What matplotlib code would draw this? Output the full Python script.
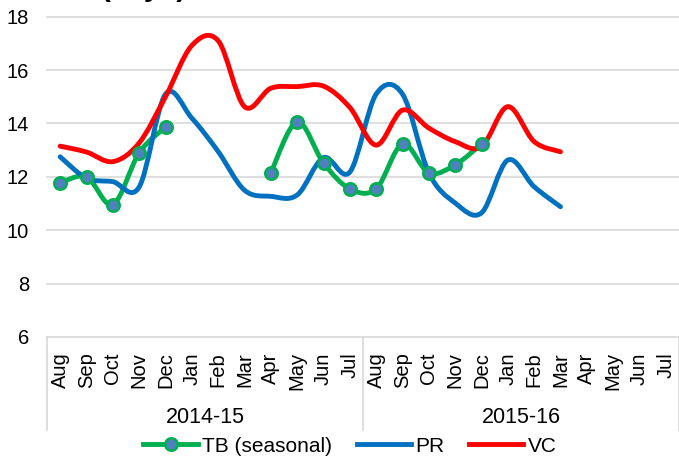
import numpy as np
import matplotlib
matplotlib.use("Agg")
import matplotlib.pyplot as plt
from matplotlib.path import Path
from matplotlib.patches import PathPatch
from matplotlib.lines import Line2D
import matplotlib.transforms as mtransforms

plt.rcParams['font.family'] = ['Liberation Sans', 'DejaVu Sans']

months = ["Aug", "Sep", "Oct", "Nov", "Dec", "Jan", "Feb", "Mar", "Apr", "May", "Jun", "Jul"]
categories = months + months
groups = ["2014-15", "2015-16"]
nan = np.nan

tb = [11.77, 12.0, 10.96, 12.9, 13.87, nan, nan, nan, 12.15, 14.06, 12.52, 11.55,
      11.55, 13.23, 12.15, 12.45, 13.23, nan, nan, nan, nan, nan, nan, nan]
pr = [12.75, 11.95, 11.82, 11.62, 15.1, 14.2, 12.95, 11.5, 11.27, 11.32, 12.72, 12.18,
      15.1, 15.1, 12.15, 11.02, 10.65, 12.63, 11.63, 10.88, nan, nan, nan, nan]
vc = [13.15, 12.93, 12.57, 13.27, 15.0, 16.92, 17.1, 14.63, 15.32, 15.38, 15.4, 14.6,
      13.19, 14.5, 13.83, 13.32, 13.13, 14.63, 13.32, 12.94, nan, nan, nan, nan]

series = [("TB (seasonal)", tb, "#00B050", True),
          ("PR", pr, "#0070C0", False),
          ("VC", vc, "#FF0000", False)]

fig = plt.figure(figsize=(6.79, 4.58), dpi=100)
ax = fig.add_axes([47/679, 1-337/458, 632/679, 320.3/458])
ax.set_xlim(-0.5, len(categories) - 0.5)
ax.set_ylim(6, 18)


def smooth_path(xs, ys):
    """Catmull-Rom style Bezier through the points (Excel smoothed line)."""
    verts, codes = [], []
    segs = []
    cur = []
    for x, y in zip(xs, ys):
        if np.isnan(y):
            if cur:
                segs.append(cur)
            cur = []
        else:
            cur.append((x, y))
    if cur:
        segs.append(cur)
    for seg in segs:
        p = np.array(seg, dtype=float)
        n = len(p)
        verts.append(tuple(p[0])); codes.append(Path.MOVETO)
        for i in range(n - 1):
            p0 = p[i - 1] if i > 0 else p[i]
            p1 = p[i]
            p2 = p[i + 1]
            p3 = p[i + 2] if i + 2 < n else p[i + 1]
            c1 = p1 + (p2 - p0) / 6.0
            c2 = p2 - (p3 - p1) / 6.0
            verts += [tuple(c1), tuple(c2), tuple(p2)]
            codes += [Path.CURVE4] * 3
    return Path(verts, codes)


x = np.arange(len(categories))
for z, (name, vals, col, mk) in enumerate(series):
    v = np.array(vals, dtype=float)
    patch = PathPatch(smooth_path(x, v), facecolor='none', edgecolor=col,
                      lw=3.5, capstyle='round', joinstyle='round', zorder=3 + z)
    ax.add_patch(patch)
    if mk:
        ax.plot(x, v, linestyle='none', marker='o', ms=9, mfc='#4F81BD',
                mec=col, mew=1.8, zorder=10)

# axes styling
for s in ax.spines.values():
    s.set_visible(False)
ax.set_yticks([6, 8, 10, 12, 14, 16, 18])
ax.tick_params(axis='y', length=0, pad=13, labelsize=14.5)
ax.grid(axis='y', color='#D9D9D9', lw=1.2)
for gl in ax.get_ygridlines():
    gl.set_clip_on(False)
ax.set_axisbelow(True)

ax.set_xticks(x)
ax.set_xticklabels(categories, rotation=90, fontsize=14.5)
ax.tick_params(axis='x', length=0, pad=11)

trans = mtransforms.blended_transform_factory(ax.transData, ax.transAxes)
for xb in [-0.5, 11.5, 23.5]:
    ax.add_line(Line2D([xb, xb], [0, -0.29], transform=trans, color='#D9D9D9',
                       lw=1.2, clip_on=False))
for gi, g in enumerate(groups):
    ax.text(gi * 12 + 5.5, -0.25, g, transform=trans, ha='center', va='center',
            fontsize=15.5)

# cropped title fragment at the very top (only its descenders show)
fig.text(100/679, 1 + 4/458, "(days)", fontsize=21, fontweight='bold',
         ha='left', va='baseline')

handles = [Line2D([], [], color='#00B050', lw=3.5, marker='o', ms=9,
                  mfc='#4F81BD', mec='#00B050', mew=1.8),
           Line2D([], [], color='#0070C0', lw=3.5),
           Line2D([], [], color='#FF0000', lw=3.5)]
fig.legend(handles, [s[0] for s in series], loc='center',
           bbox_to_anchor=(350/679, 1 - 446/458), ncol=3, frameon=False,
           fontsize=15, handlelength=2.6, handletextpad=0.2, columnspacing=1.2,
           borderpad=0, borderaxespad=0)

fig.savefig("out.png", dpi=100)
